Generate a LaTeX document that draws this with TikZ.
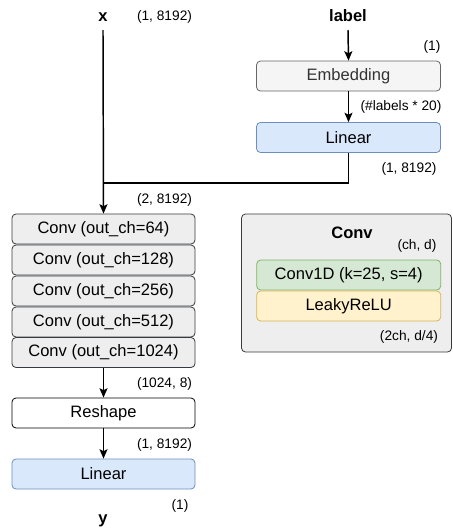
\documentclass[tikz,border=0pt]{standalone}
\usepackage{fontspec}
\setmainfont{Liberation Sans}
\usetikzlibrary{arrows.meta}
\definecolor{grayfill}{HTML}{EEEEEE}
\definecolor{graydraw}{HTML}{36393D}
\definecolor{embfill}{HTML}{F5F5F5}
\definecolor{embdraw}{HTML}{666666}
\definecolor{embtext}{HTML}{333333}
\definecolor{bluefill}{HTML}{DAE8FC}
\definecolor{bluedraw}{HTML}{6C8EBF}
\definecolor{greenfill}{HTML}{D5E8D4}
\definecolor{greendraw}{HTML}{82B366}
\definecolor{yellowfill}{HTML}{FFF2CC}
\definecolor{yellowdraw}{HTML}{D6B656}
\tikzset{
  box/.style={draw, rounded corners=3pt, line width=0.6pt, inner sep=0pt,
    font=\fontsize{12.4}{14}\selectfont, minimum height=22.5pt},
  lbox/.style={box, minimum width=137.25pt},
  rbox/.style={box, minimum width=138pt},
  graybox/.style={fill=grayfill, draw=graydraw},
  embbox/.style={fill=embfill, draw=embdraw, text=embtext},
  bluebox/.style={fill=bluefill, draw=bluedraw},
  greenbox/.style={fill=greenfill, draw=greendraw},
  yellowbox/.style={fill=yellowfill, draw=yellowdraw},
  dim/.style={font=\fontsize{10.3}{12}\selectfont, inner sep=0pt},
  title/.style={font=\bfseries\fontsize{12.4}{14}\selectfont, inner sep=0pt},
  arr/.style={line width=1.1pt, -{Stealth[length=7pt, width=6pt, inset=1.5pt]}},
  ln/.style={line width=1.1pt}
}
\begin{document}
\begin{tikzpicture}[x=0.75pt, y=-0.75pt]
\useasboundingbox (0,0) rectangle (453,529);
% left column
\node[title] (xlab) at (103,17) {x};
\node[dim] (xdim) at (164.5,17) {(1, 8192)};
\coordinate (xtop) at (103,30);
\coordinate (j) at (103,183);
\node[dim] (d2) at (164.5,200) {(2, 8192)};
\node[lbox, graybox] (c1) at (103.5,229) {Conv (out\_ch=64)};
\node[lbox, graybox] (c2) at (103.5,260) {Conv (out\_ch=128)};
\node[lbox, graybox] (c3) at (103.5,291) {Conv (out\_ch=256)};
\node[lbox, graybox] (c4) at (103.5,322) {Conv (out\_ch=512)};
\node[lbox, graybox] (c5) at (103.5,352.5) {Conv (out\_ch=1024)};
\node[dim] (d3) at (164.5,384) {(1024, 8)};
\node[lbox, draw=black, fill=white] (resh) at (103.5,413) {Reshape};
\node[dim] (d4) at (164.5,444.5) {(1, 8192)};
\node[lbox, bluebox] (lin2) at (103.5,474) {Linear};
\node[dim] (d5) at (180,506) {(1)};
\node[title] (ylab) at (103,521) {y};
% right column
\node[title] (lab) at (348,16) {label};
\coordinate (labtop) at (348,30);
\node[dim] (d6) at (432,47) {(1)};
\node[rbox, embbox] (emb) at (348.5,76) {Embedding};
\node[dim] (d7) at (401,107) {(\#labels * 20)};
\node[rbox, bluebox] (lin1) at (348.5,137.5) {Linear};
\node[dim] (d8) at (409,169) {(1, 8192)};
% conv legend panel
\node[draw=graydraw, fill=grayfill, rounded corners=3pt, line width=0.6pt,
  minimum width=157.5pt, minimum height=103.5pt, inner sep=0pt] (panel) at (346.5,283) {};
\node[title] (ptitle) at (352,233) {Conv};
\node[dim] (d9) at (417,246) {(ch, d)};
\node[rbox, greenbox] (c1d) at (348.7,275) {Conv1D (k=25, s=4)};
\node[rbox, yellowbox] (lrelu) at (348.7,306) {LeakyReLU};
\node[dim] (d10) at (409,337) {(2ch, d/4)};
% connectors
\draw[arr] (xtop) -- (c1.north);
\draw[ln] (lin1.south) |- (j);
\draw[arr] (labtop) -- (emb.north);
\draw[arr] (emb.south) -- (lin1.north);
\draw[arr] (c5.south) -- (resh.north);
\draw[arr] (resh.south) -- (lin2.north);
\end{tikzpicture}
\end{document}
